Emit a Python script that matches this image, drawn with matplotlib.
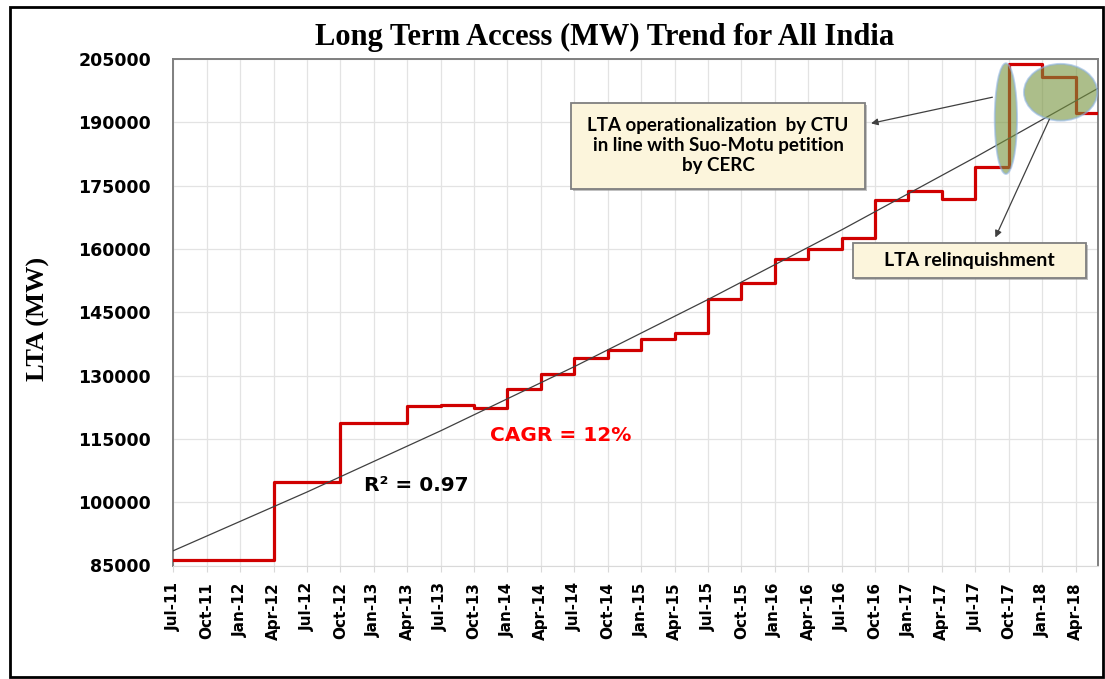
import numpy as np
import matplotlib
matplotlib.use('Agg')
from matplotlib import pyplot as plt
from matplotlib.patches import Ellipse, Rectangle
import matplotlib.patheffects as pe

# LTA level (MW): month where each new level starts
step_dates = ['2011-07', '2012-04', '2012-10', '2013-04', '2013-07', '2013-10',
              '2014-01', '2014-04', '2014-07', '2014-10', '2015-01', '2015-04',
              '2015-07', '2015-10', '2016-01', '2016-04', '2016-07', '2016-10',
              '2017-01', '2017-04', '2017-07', '2017-10', '2018-01', '2018-04']
lta_mw = [86300, 104800, 118800, 122800, 123100, 122200, 126700, 130400,
          134100, 136100, 138600, 140000, 148100, 151900, 157500, 160000,
          162500, 171600, 173700, 171800, 179300, 203800, 200700, 192300]
end_date = '2018-06'

# trend line
trend_dates = ['2011-07', '2012-07', '2013-07', '2014-07', '2015-07',
               '2016-07', '2017-07', '2018-06']
trend_mw = [88500, 102400, 116900, 132100, 148000, 164500, 181700, 198000]

tick_labels = ['Jul-11', 'Oct-11', 'Jan-12', 'Apr-12', 'Jul-12', 'Oct-12', 'Jan-13',
               'Apr-13', 'Jul-13', 'Oct-13', 'Jan-14', 'Apr-14', 'Jul-14', 'Oct-14',
               'Jan-15', 'Apr-15', 'Jul-15', 'Oct-15', 'Jan-16', 'Apr-16', 'Jul-16',
               'Oct-16', 'Jan-17', 'Apr-17', 'Jul-17', 'Oct-17', 'Jan-18', 'Apr-18']
y_ticks = [85000, 100000, 115000, 130000, 145000, 160000, 175000, 190000, 205000]


def month_idx(s):
    y, m = map(int, s.split('-'))
    return (y - 2011) * 12 + m - 7


W, H = 1105, 679
fig = plt.figure(figsize=(W / 100, H / 100), dpi=100)
ax = fig.add_axes([173.3 / W, 1 - 565.5 / H, 924.5 / W, 506.6 / H])

# step series
x = [month_idx(d) for d in step_dates] + [month_idx(end_date)]
y = lta_mw + [lta_mw[-1]]
ax.step(x, y, where='post', color='#D00000', lw=2.3, zorder=3)

tx = [month_idx(d) for d in trend_dates]
ax.plot(tx, trend_mw, color='#404040', lw=0.9, zorder=4)

ax.set_xlim(0, month_idx(end_date))
ax.set_ylim(y_ticks[0], y_ticks[-1])
ax.set_xticks(np.arange(0, 3 * len(tick_labels), 3))
ax.set_xticklabels(tick_labels, rotation=90, fontsize=11, fontweight='bold',
                   family='DejaVu Sans')
ax.set_yticks(y_ticks)
ax.set_yticklabels([str(v) for v in y_ticks], fontsize=12.5, fontweight='bold',
                   family='DejaVu Sans')
ax.tick_params(axis='y', length=0, pad=16)
ax.tick_params(axis='x', length=4, color='#D9D9D9', pad=8)
ax.grid(True, color='#E3E3E3', lw=0.9)
ax.set_axisbelow(True)
for s in ['left', 'top', 'right']:
    ax.spines[s].set_color('#7F7F7F')
    ax.spines[s].set_linewidth(1.4)
ax.spines['bottom'].set_color('#D9D9D9')

# highlight ellipses
ell_kw = dict(facecolor='#76933C', alpha=0.6, edgecolor='#8EB4E3', lw=1.4,
              zorder=5, clip_on=False)
ax.add_patch(Ellipse((74.75, 190850), 2.0, 26200, **ell_kw))
ax.add_patch(Ellipse((79.66, 197100), 6.58, 13430, **ell_kw))

# annotation boxes
box_kw = dict(facecolor='#FCF5DC', edgecolor='#7F7F7F', lw=1.3, zorder=6,
              path_effects=[pe.SimplePatchShadow(offset=(1.5, -1.5), shadow_rgbFace='#999999', alpha=0.6),
                            pe.Normal()])
ax.add_patch(Rectangle((35.7, 174190), 26.4, 20450, **box_kw))
ax.text(48.9, 184550, 'LTA operationalization  by CTU\nin line with Suo-Motu petition\nby CERC',
        ha='center', va='center', fontsize=13.5, fontweight='bold', family='Lato',
        linespacing=1.2, zorder=7)
ax.add_patch(Rectangle((61.0, 153040), 20.95, 8430, **box_kw))
ax.text(71.5, 157250, 'LTA relinquishment', ha='center', va='center', fontsize=14,
        fontweight='bold', family='Lato', zorder=7)

arr = dict(arrowstyle='-|>', color='#404040', lw=0.9, mutation_scale=10)
ax.annotate('', xy=(62.4, 189590), xytext=(73.78, 196060), arrowprops=arr,
            annotation_clip=False, zorder=8)
ax.annotate('', xy=(73.7, 162110), xytext=(78.76, 191320), arrowprops=arr,
            annotation_clip=False, zorder=8)

ax.text(28.4, 115700, 'CAGR = 12%', color='#FF0000', fontsize=14.5,
        fontweight='bold', va='center', ha='left', zorder=7)
ax.text(17.1, 103950, 'R\u00b2 = 0.97', color='black', fontsize=14.5,
        fontweight='bold', va='center', ha='left', zorder=7)

fig.text(605 / W, 1 - 45 / H, 'Long Term Access (MW) Trend for All India',
         ha='center', va='baseline', fontsize=22, fontweight='bold',
         family='Liberation Serif')
fig.text(38 / W, 1 - 319 / H, 'LTA (MW)', rotation=90, ha='center', va='center',
         fontsize=19, fontweight='bold', family='Liberation Serif')

# outer frame
fig.patches.append(Rectangle((10 / W, 1 - 677 / H), 1093 / W, 670 / H,
                             transform=fig.transFigure, fill=False,
                             edgecolor='black', lw=2))

fig.savefig('out.png', dpi=100)
